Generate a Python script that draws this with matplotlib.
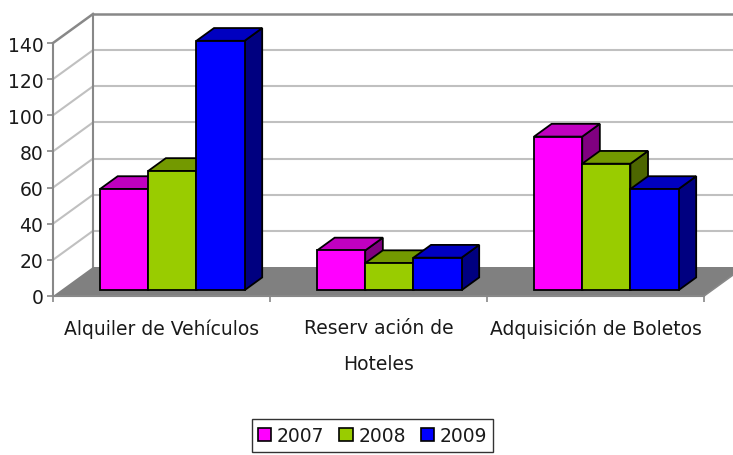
import matplotlib
matplotlib.use("Agg")
import matplotlib.pyplot as plt
from matplotlib.patches import Polygon, Patch

categories = ["Alquiler de Vehículos", "Reserv ación de\nHoteles", "Adquisición de Boletos"]
series_names = ["2007", "2008", "2009"]
values_2007 = [56, 22, 85]
values_2008 = [66, 15, 70]
values_2009 = [138, 18, 56]
y_ticks = [0, 20, 40, 60, 80, 100, 120, 140]

# front / top / side shades per series
FACE_COLORS = [
    ("#FF00FF", "#C000C0", "#800080"),
    ("#99CC00", "#739900", "#4D6600"),
    ("#0000FF", "#0000C0", "#000080"),
]
TEXT_COLOR = "#1a1a1a"
AXIS_GRAY = "#888888"
GRID_GRAY = "#C0C0C0"
FLOOR_GRAY = "#808080"
FONT = "DejaVu Sans"
FONT_SIZE = 13.5

W, H = 733, 456
fig = plt.figure(figsize=(W / 100, H / 100), dpi=100)
ax = fig.add_axes([53 / W, 1 - 297 / H, (704 - 53) / W, (297 - 44) / H])
ax.set_xlim(0, 3)
ax.set_ylim(0, 140)

# oblique depth of the plot box, in data units
DX = 40 / 217
DY = 29 / ((297 - 44) / 140)
ymax = y_ticks[-1]

# floor
ax.add_patch(Polygon([(0, 0), (3, 0), (3 + DX, DY), (DX, DY)], closed=True,
                     facecolor=FLOOR_GRAY, edgecolor="none", clip_on=False, zorder=1))
ax.plot([3, 3 + DX], [0, DY], color=AXIS_GRAY, lw=1.2, clip_on=False, zorder=2)

# walls and gridlines
for v in y_ticks[1:]:
    color = AXIS_GRAY if v == ymax else GRID_GRAY
    lw = 1.8 if v == ymax else 1.5
    ax.plot([0, DX], [v, v + DY], color=color, lw=lw, clip_on=False, zorder=0)
    ax.plot([DX, 3 + DX * 1.5], [v + DY, v + DY], color=color, lw=lw, clip_on=False, zorder=0)
ax.plot([DX, DX], [DY, ymax + DY], color=AXIS_GRAY, lw=1.5, clip_on=False, zorder=0)

# 3-D bars
gap = 0.18
bar_w = 0.222
f0, f1 = 0.2, 0.64
all_values = [values_2007, values_2008, values_2009]
for i in range(len(categories)):
    for j, vals in enumerate(all_values):
        v = vals[i]
        xl = i + gap + j * bar_w
        xr = xl + bar_w
        front_c, top_c, side_c = FACE_COLORS[j]
        a0x, a0y = f0 * DX, f0 * DY
        a1x, a1y = f1 * DX, f1 * DY
        z = 3 + i * 3 + j
        side = [(xr + a0x, a0y), (xr + a1x, a1y), (xr + a1x, v + a1y), (xr + a0x, v + a0y)]
        top = [(xl + a0x, v + a0y), (xr + a0x, v + a0y), (xr + a1x, v + a1y), (xl + a1x, v + a1y)]
        front = [(xl + a0x, a0y), (xr + a0x, a0y), (xr + a0x, v + a0y), (xl + a0x, v + a0y)]
        for pts, c in ((side, side_c), (top, top_c), (front, front_c)):
            ax.add_patch(Polygon(pts, closed=True, facecolor=c, edgecolor="black",
                                 lw=1.3, joinstyle="miter", clip_on=False, zorder=z))

# axes
for name in ("top", "right"):
    ax.spines[name].set_visible(False)
for name in ("left", "bottom"):
    ax.spines[name].set_color(AXIS_GRAY)
    ax.spines[name].set_linewidth(1.5)
    ax.spines[name].set_zorder(2)
ax.set_yticks(y_ticks)
ax.set_yticklabels([str(t) for t in y_ticks], fontsize=FONT_SIZE, family=FONT, color=TEXT_COLOR)
ax.tick_params(axis="y", direction="out", length=4, width=1.2, color=AXIS_GRAY, pad=3)
ax.set_xticks([0, 1, 2, 3])
ax.set_xticklabels([])
ax.tick_params(axis="x", which="major", direction="out", length=4, width=1.2, color=AXIS_GRAY)
ax.set_xticks([0.5, 1.5, 2.5], minor=True)
ax.set_xticklabels(categories, minor=True, fontsize=FONT_SIZE, family=FONT,
                   color=TEXT_COLOR, linespacing=2.1, va="top")
ax.tick_params(axis="x", which="minor", length=0, pad=16)
ax.patch.set_visible(False)

handles = [Patch(facecolor=c[0], edgecolor="black", lw=1.2) for c in FACE_COLORS]
leg = fig.legend(handles, series_names, loc="center", ncol=3,
                 bbox_to_anchor=((249 + 496) / 2 / W, 1 - 436.5 / H),
                 prop={"family": FONT, "size": FONT_SIZE}, frameon=True, fancybox=False,
                 handlelength=0.7, handleheight=0.7, handletextpad=0.3, columnspacing=0.8,
                 borderpad=0.35, borderaxespad=0)
leg.get_frame().set_edgecolor("black")
leg.get_frame().set_linewidth(1.0)
for t in leg.get_texts():
    t.set_color(TEXT_COLOR)

fig.savefig("out.png", dpi=100)
